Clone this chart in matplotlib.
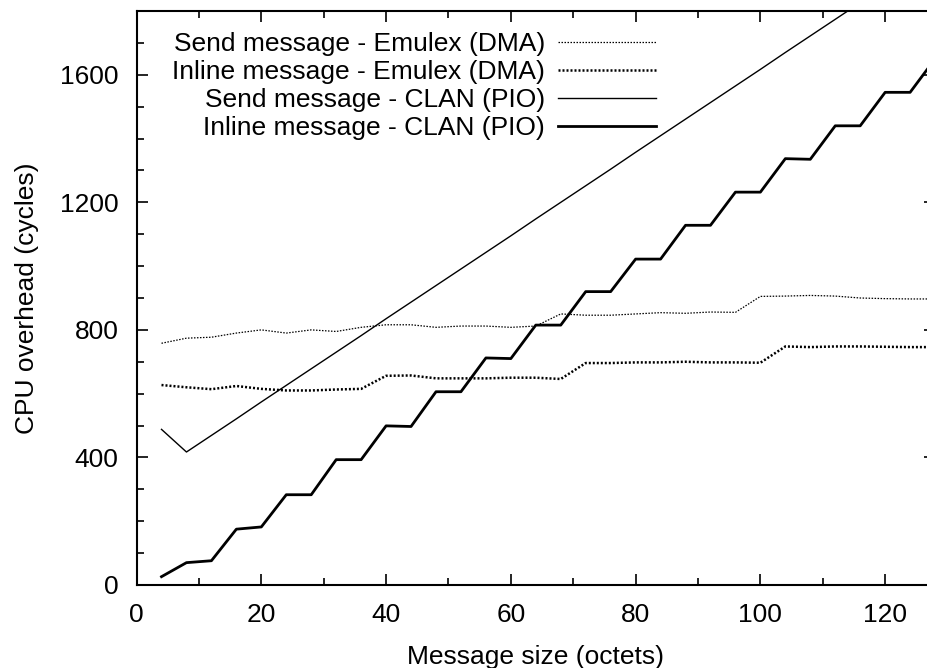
import matplotlib
matplotlib.use("Agg")
import matplotlib.pyplot as plt
from matplotlib.ticker import MultipleLocator

plt.rcParams['font.family'] = ['Liberation Sans', 'DejaVu Sans']

# Message sizes (octets)
sizes = [4, 8, 12, 16, 20, 24, 28, 32, 36, 40, 44, 48, 52, 56, 60, 64,
         68, 72, 76, 80, 84, 88, 92, 96, 100, 104, 108, 112, 116, 120, 124, 128]

# CPU overhead (cycles)
send_emulex = [758, 774, 777, 790, 800, 790, 800, 795, 808, 816, 816, 808,
               812, 812, 808, 812, 850, 846, 846, 850, 854, 852, 856, 855,
               905, 906, 908, 906, 900, 898, 897, 897]
inline_emulex = [627, 620, 614, 624, 615, 610, 610, 613, 615, 656, 657, 648,
                 648, 648, 650, 650, 646, 696, 696, 698, 698, 700, 698, 698,
                 697, 748, 746, 748, 748, 747, 746, 746]
send_clan = [488, 417, 469, 521, 574, 626, 678, 730, 782, 835, 887, 939,
             991, 1043, 1095, 1148, 1200, 1252, 1304, 1357, 1409, 1461, 1513,
             1565, 1617, 1670, 1722, 1774, 1826, 1878, 1930, 1983]
inline_clan = [26, 70, 76, 175, 182, 283, 283, 393, 393, 499, 497, 606,
               606, 712, 710, 815, 815, 920, 920, 1022, 1022, 1128, 1128,
               1232, 1232, 1337, 1335, 1440, 1440, 1545, 1545, 1650]

labels = ["Send message - Emulex (DMA)",
          "Inline message - Emulex (DMA)",
          "Send message - CLAN (PIO)",
          "Inline message - CLAN (PIO)"]

FS = 19

fig = plt.figure(figsize=(9.27, 6.68), dpi=100)
ax = fig.add_axes([0.1473, 0.1243, 0.8614, 0.8592])

ax.plot(sizes, send_emulex, color='black', lw=0.9, ls=(0, (1.2, 1.2)), label=labels[0])
ax.plot(sizes, inline_emulex, color='black', lw=1.8, ls=(0, (0.8, 0.8)), label=labels[1])
ax.plot(sizes, send_clan, color='black', lw=1.0, ls='-', label=labels[2])
ax.plot(sizes, inline_clan, color='black', lw=2.0, ls='-', label=labels[3])

ax.set_xlim(0, 128)
ax.set_ylim(0, 1800)
ax.xaxis.set_major_locator(MultipleLocator(20))
ax.xaxis.set_minor_locator(MultipleLocator(10))
ax.yaxis.set_major_locator(MultipleLocator(400))
ax.yaxis.set_minor_locator(MultipleLocator(100))
ax.tick_params(which='both', direction='in', top=True, right=True,
               labelsize=FS, width=1.2)
ax.tick_params(axis='y', pad=13)
ax.tick_params(axis='x', pad=13)
ax.tick_params(which='major', length=8)
ax.tick_params(which='minor', length=5)
for s in ax.spines.values():
    s.set_linewidth(1.5)

ax.set_xlabel("Message size (octets)", fontsize=FS, labelpad=13)
ax.set_ylabel("CPU overhead (cycles)", fontsize=FS, labelpad=15)

ax.legend(loc='upper right', bbox_to_anchor=(0.650, 0.963), frameon=False,
          markerfirst=False, fontsize=FS, handlelength=3.7, handletextpad=0.5,
          labelspacing=0.15, borderaxespad=0.0, borderpad=0.0)

fig.savefig("out.png", dpi=100)
